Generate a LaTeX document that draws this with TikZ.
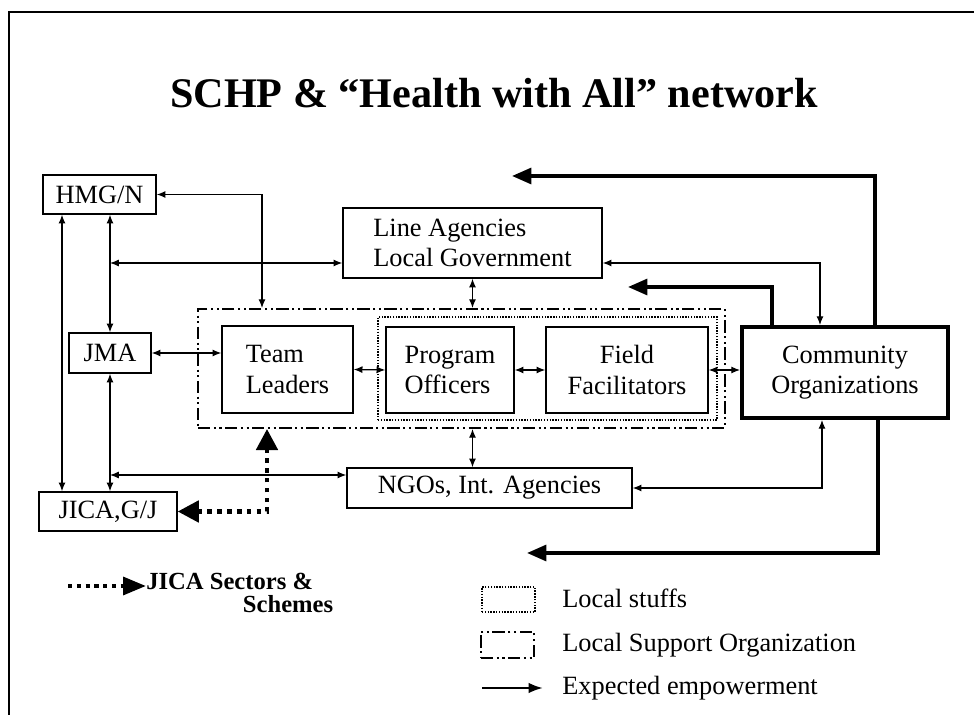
\documentclass[tikz,border=0pt]{standalone}
\usepackage{fontspec}
\setmainfont{Liberation Serif}
\usepackage{tikz}
\usetikzlibrary{arrows.meta}

\begin{document}
\begin{tikzpicture}[x=0.02cm,y=-0.02cm]
\tikzstyle{box}=[draw,line width=0.8pt,inner sep=2pt,font=\fontsize{15}{17.5}\selectfont]
\tikzstyle{lsobox}=[draw,line width=1.1pt,dash pattern=on 7pt off 2pt on 1.2pt off 2pt on 1.2pt off 2pt]
\tikzstyle{lsbox}=[draw,line width=1.4pt,dash pattern=on 0.8pt off 0.8pt]
\tikzstyle{link}=[line width=0.7pt,{Latex[length=5pt,width=4pt]}-{Latex[length=5pt,width=4pt]}]
\tikzstyle{power}=[line width=2pt,-{Triangle[length=11pt,width=9pt]}]
\tikzstyle{jicalink}=[line width=2.6pt,dash pattern=on 2.6pt off 3pt,{Triangle[length=12pt,width=12pt]}-{Triangle[length=12pt,width=12pt]}]
\tikzstyle{legtext}=[anchor=west,inner sep=0pt,font=\fontsize{15}{17.5}\selectfont]
\useasboundingbox (0,0) rectangle (974,715);
\draw[line width=1.1pt] (9,715) -- (9,12) -- (974,12);
\node[font=\fontsize{24}{28}\selectfont\bfseries] (title) at (494,93) {SCHP \& “Health with All” network};

\node[lsobox,minimum width=10.54cm,minimum height=2.38cm] (lso) at (461.5,368.5) {};
\node[lsbox,minimum width=6.78cm,minimum height=2.06cm] (ls) at (547.5,368.5) {};
\node[box,minimum width=2.26cm,minimum height=0.78cm] (hmg) at (99.5,194.5) {HMG/N};
\node[box,align=left,minimum width=5.18cm,minimum height=1.4cm] (line) at (472.5,243) {Line Agencies\\Local Government};
\node[box,minimum width=1.64cm,minimum height=0.8cm] (jma) at (110,353) {JMA};
\node[box,align=left,minimum width=2.62cm,minimum height=1.74cm] (tl) at (287.5,369.5) {Team\\Leaders};
\node[box,align=left,minimum width=2.56cm,minimum height=1.72cm] (po) at (450,370) {Program\\ Officers};
\node[box,align=center,minimum width=3.24cm,minimum height=1.72cm] (ff) at (627,370) {Field\\Facilitators};
\node[box,line width=2.2pt,align=center,minimum width=4.12cm,minimum height=1.82cm] (co) at (845,372.5) {Community\\Organizations};
\node[box,minimum width=5.7cm,minimum height=0.8cm] (ngo) at (489.5,488) {NGOs, Int. Agencies\hspace{14pt}};
\node[box,minimum width=2.76cm,minimum height=0.78cm] (jica) at (108,511.5) {JICA,G/J};

\draw[link] (hmg.east) -| (262,0 |- lso.north);
\draw[link] (62,0 |- hmg.south) -- (62,0 |- jica.north);
\draw[link] (jma.north |- hmg.south) -- (jma.north);
\draw[link] (jma.north |- 0,263) -- (line.west |- 0,263);
\draw[link] (jma.east) -- (jma.east -| tl.west);
\draw[link] (jma.south) -- (jma.south |- jica.north);
\draw[link] (jma.south |- 0,475) -- (ngo.west |- 0,475);
\draw[link] (tl.east) -- (po.west);
\draw[link] (po.east) -- (ff.west);
\draw[link] (ff.east) -- (ff.east -| co.west);
\draw[link] (line.south) -- (line.south |- lso.north);
\draw[link] (line.south |- lso.south) -- (line.south |- ngo.north);
\draw[link] (line.east |- 0,263) -| (820,0 |- co.north);
\draw[link] (ngo.east) -| (822,0 |- co.south);

\coordinate (p1) at (512,176);
\coordinate (p2) at (628,287);
\coordinate (p3) at (527,553);
\draw[power] (875,0 |- co.north) |- (p1);
\draw[power] (772,0 |- co.north) |- (p2);
\draw[power] (878,0 |- co.south) |- (p3);
\draw[jicalink] (jica.east) -| (267,0 |- lso.south);

\node[anchor=west,inner sep=0pt,align=left,font=\fontsize{14}{13}\selectfont\bfseries] (k) at (146,593) {JICA Sectors \&\\\hspace*{55pt}Schemes};
\coordinate (k1) at (68,586);
\draw[line width=2.4pt,dash pattern=on 2.4pt off 2.6pt,-{Triangle[length=13pt,width=10pt]}] (k1) -- (k.west |- k1);
\node[lsbox,minimum width=1.06cm,minimum height=0.5cm] (b1) at (508.5,599.5) {};
\node[legtext] (t1) at (562,598) {Local stuffs};
\node[lsobox,line width=0.9pt,minimum width=1.06cm,minimum height=0.52cm] (b2) at (507.5,645) {};
\node[legtext] (t2) at (562,645) {Local Support Organization};
\coordinate (k3) at (482,688);
\node[legtext] (t3) at (562,688) {Expected empowerment};
\draw[line width=1pt,-{Latex[length=8pt,width=6pt]},shorten >=11pt] (k3) -- (t3.west);
\end{tikzpicture}
\end{document}
